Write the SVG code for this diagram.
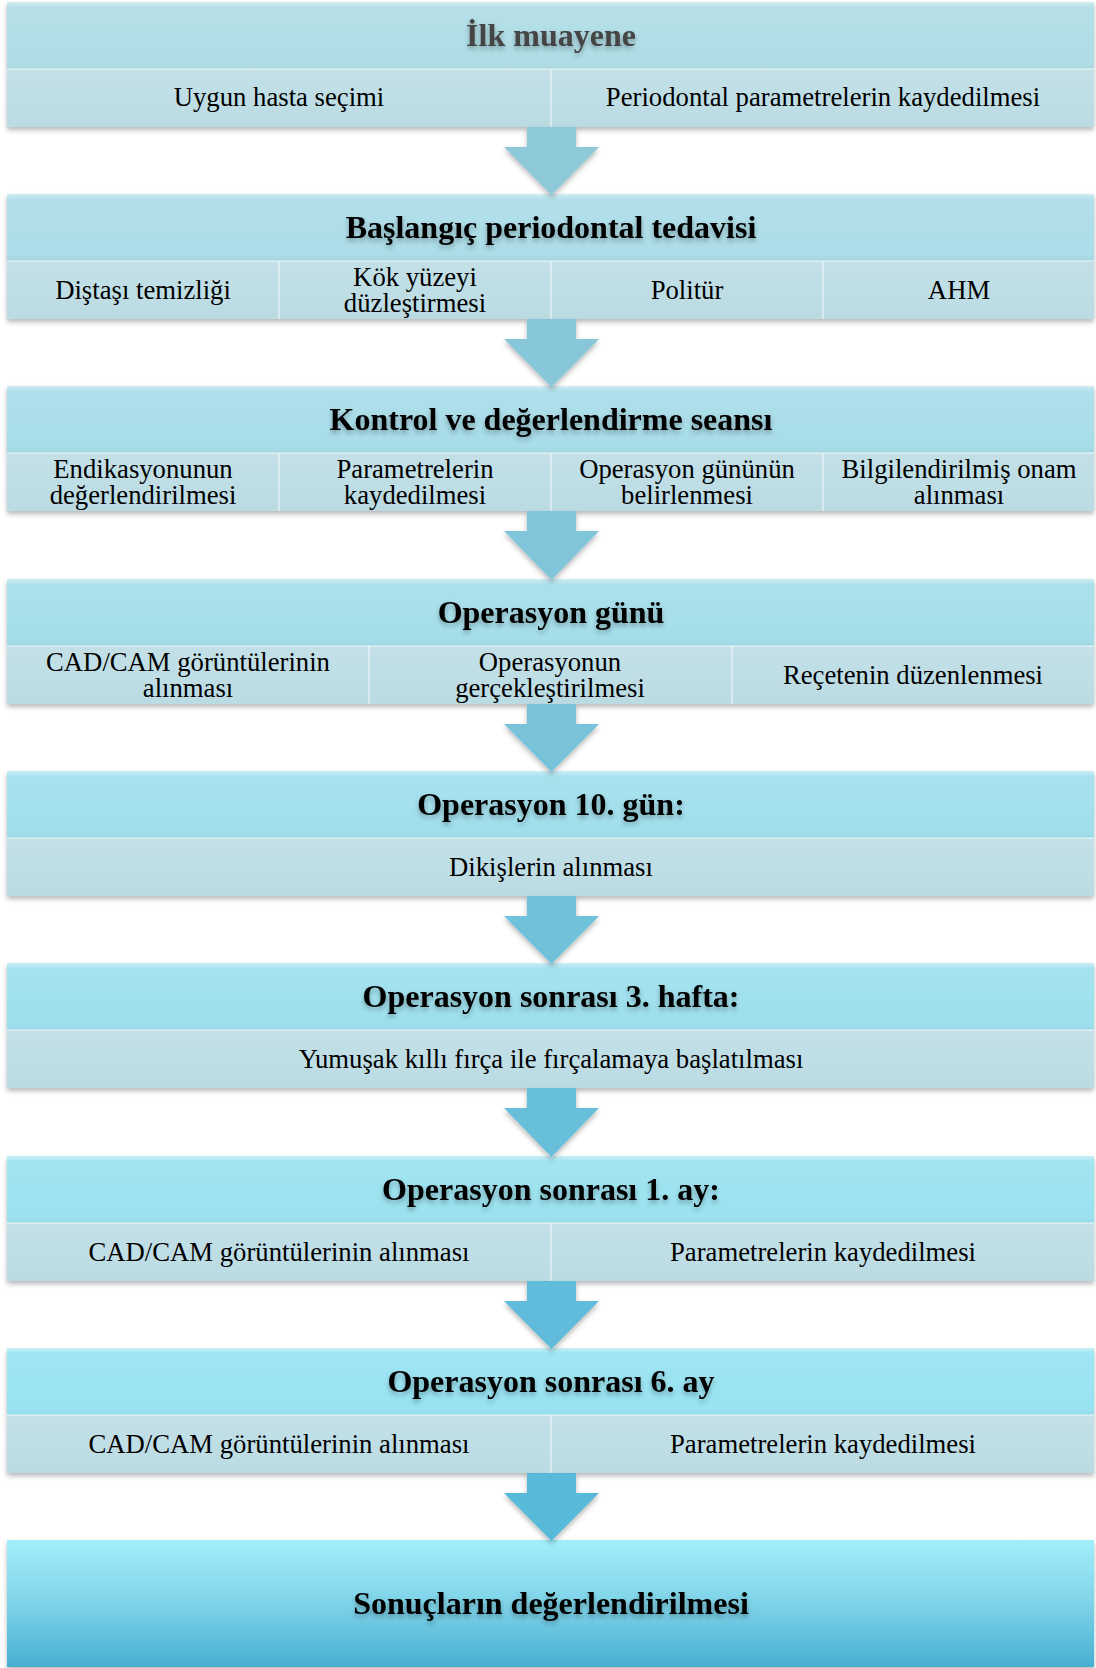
<svg xmlns="http://www.w3.org/2000/svg" width="1096" height="1668" viewBox="0 0 1096 1668">
<style>
.hd{font-family:"Liberation Serif","Times New Roman",serif;font-weight:bold;font-size:32px;fill:#000;text-anchor:middle}
.sb{font-family:"Liberation Serif","Times New Roman",serif;font-size:26.7px;fill:#000;text-anchor:middle}
.dv{stroke:#ffffff;stroke-opacity:0.55;stroke-width:1.5}
.sub{fill:url(#subG)}
.hl{fill:url(#hlG)}
</style>
<defs>
<filter id="sh" x="-5%" y="-20%" width="110%" height="150%">
<feDropShadow dx="0" dy="3" stdDeviation="2.5" flood-color="#000" flood-opacity="0.28"/>
</filter>
<filter id="ts" x="-10%" y="-30%" width="120%" height="180%">
<feDropShadow dx="0" dy="3" stdDeviation="2.5" flood-color="#000" flood-opacity="0.3"/>
</filter>
<linearGradient id="hlG" x1="0" y1="0" x2="0" y2="1">
<stop offset="0" stop-color="#ffffff" stop-opacity="0.45"/>
<stop offset="0.08" stop-color="#ffffff" stop-opacity="0.08"/>
<stop offset="0.85" stop-color="#ffffff" stop-opacity="0"/>
<stop offset="1" stop-color="#000000" stop-opacity="0.04"/>
</linearGradient>
<linearGradient id="subG" x1="0" y1="0" x2="0" y2="1">
<stop offset="0" stop-color="#c3e0e7"/>
<stop offset="1" stop-color="#bbdbe3"/>
</linearGradient>
<linearGradient id="finG" x1="0" y1="0" x2="0" y2="1">
<stop offset="0" stop-color="#a2effb"/>
<stop offset="0.5" stop-color="#7fd3e8"/>
<stop offset="1" stop-color="#47afd2"/>
</linearGradient>
</defs>

<g id="node1">
<rect x="7" y="2" width="1087" height="125" fill="#afdde6" filter="url(#sh)"/>
<rect x="7" y="2" width="1087" height="67" class="hl"/>
<rect x="7" y="69" width="1087" height="58" class="sub"/>
<line x1="7" y1="69" x2="1094" y2="69" class="dv"/>
<line x1="551" y1="69" x2="551" y2="127" class="dv"/>
<text x="551" y="46" class="hd" style="fill:#444" filter="url(#ts)">İlk muayene</text>
<text x="279" y="106" class="sb">Uygun hasta seçimi</text>
<text x="823" y="106" class="sb">Periodontal parametrelerin kaydedilmesi</text>
</g>

<g id="node2">
<rect x="7" y="194" width="1087" height="125" fill="#acdde8" filter="url(#sh)"/>
<rect x="7" y="194" width="1087" height="67" class="hl"/>
<rect x="7" y="261" width="1087" height="58" class="sub"/>
<line x1="7" y1="261" x2="1094" y2="261" class="dv"/>
<line x1="279" y1="261" x2="279" y2="319" class="dv"/>
<line x1="551" y1="261" x2="551" y2="319" class="dv"/>
<line x1="823" y1="261" x2="823" y2="319" class="dv"/>
<text x="551" y="238" class="hd" filter="url(#ts)">Başlangıç periodontal tedavisi</text>
<text x="143" y="299" class="sb">Diştaşı temizliği</text>
<text x="415" y="286" class="sb">Kök yüzeyi</text>
<text x="415" y="312" class="sb">düzleştirmesi</text>
<text x="687" y="299" class="sb">Politür</text>
<text x="959" y="299" class="sb">AHM</text>
</g>

<g id="node3">
<rect x="7" y="386" width="1087" height="125" fill="#a8dde9" filter="url(#sh)"/>
<rect x="7" y="386" width="1087" height="67" class="hl"/>
<rect x="7" y="453" width="1087" height="58" class="sub"/>
<line x1="7" y1="453" x2="1094" y2="453" class="dv"/>
<line x1="279" y1="453" x2="279" y2="511" class="dv"/>
<line x1="551" y1="453" x2="551" y2="511" class="dv"/>
<line x1="823" y1="453" x2="823" y2="511" class="dv"/>
<text x="551" y="430" class="hd" filter="url(#ts)">Kontrol ve değerlendirme seansı</text>
<text x="143" y="478" class="sb">Endikasyonunun</text>
<text x="143" y="504" class="sb">değerlendirilmesi</text>
<text x="415" y="478" class="sb">Parametrelerin</text>
<text x="415" y="504" class="sb">kaydedilmesi</text>
<text x="687" y="478" class="sb">Operasyon gününün</text>
<text x="687" y="504" class="sb">belirlenmesi</text>
<text x="959" y="478" class="sb">Bilgilendirilmiş onam</text>
<text x="959" y="504" class="sb">alınması</text>
</g>

<g id="node4">
<rect x="7" y="579" width="1087" height="125" fill="#a5deea" filter="url(#sh)"/>
<rect x="7" y="579" width="1087" height="67" class="hl"/>
<rect x="7" y="646" width="1087" height="58" class="sub"/>
<line x1="7" y1="646" x2="1094" y2="646" class="dv"/>
<line x1="369" y1="646" x2="369" y2="704" class="dv"/>
<line x1="732" y1="646" x2="732" y2="704" class="dv"/>
<text x="551" y="623" class="hd" filter="url(#ts)">Operasyon günü</text>
<text x="188" y="671" class="sb">CAD/CAM görüntülerinin</text>
<text x="188" y="697" class="sb">alınması</text>
<text x="550" y="671" class="sb">Operasyonun</text>
<text x="550" y="697" class="sb">gerçekleştirilmesi</text>
<text x="913" y="684" class="sb">Reçetenin düzenlenmesi</text>
</g>

<g id="node5">
<rect x="7" y="771" width="1087" height="125" fill="#a1dfec" filter="url(#sh)"/>
<rect x="7" y="771" width="1087" height="67" class="hl"/>
<rect x="7" y="838" width="1087" height="58" class="sub"/>
<line x1="7" y1="838" x2="1094" y2="838" class="dv"/>
<text x="551" y="815" class="hd" filter="url(#ts)">Operasyon 10. gün:</text>
<text x="551" y="876" class="sb">Dikişlerin alınması</text>
</g>

<g id="node6">
<rect x="7" y="963" width="1087" height="125" fill="#9ee0ee" filter="url(#sh)"/>
<rect x="7" y="963" width="1087" height="67" class="hl"/>
<rect x="7" y="1030" width="1087" height="58" class="sub"/>
<line x1="7" y1="1030" x2="1094" y2="1030" class="dv"/>
<text x="551" y="1007" class="hd" filter="url(#ts)">Operasyon sonrası 3. hafta:</text>
<text x="551" y="1068" class="sb">Yumuşak kıllı fırça ile fırçalamaya başlatılması</text>
</g>

<g id="node7">
<rect x="7" y="1156" width="1087" height="125" fill="#9be2f0" filter="url(#sh)"/>
<rect x="7" y="1156" width="1087" height="67" class="hl"/>
<rect x="7" y="1223" width="1087" height="58" class="sub"/>
<line x1="7" y1="1223" x2="1094" y2="1223" class="dv"/>
<line x1="551" y1="1223" x2="551" y2="1281" class="dv"/>
<text x="551" y="1200" class="hd" filter="url(#ts)">Operasyon sonrası 1. ay:</text>
<text x="279" y="1261" class="sb">CAD/CAM görüntülerinin alınması</text>
<text x="823" y="1261" class="sb">Parametrelerin kaydedilmesi</text>
</g>

<g id="node8">
<rect x="7" y="1348" width="1087" height="125" fill="#98e3f2" filter="url(#sh)"/>
<rect x="7" y="1348" width="1087" height="67" class="hl"/>
<rect x="7" y="1415" width="1087" height="58" class="sub"/>
<line x1="7" y1="1415" x2="1094" y2="1415" class="dv"/>
<line x1="551" y1="1415" x2="551" y2="1473" class="dv"/>
<text x="551" y="1392" class="hd" filter="url(#ts)">Operasyon sonrası 6. ay</text>
<text x="279" y="1453" class="sb">CAD/CAM görüntülerinin alınması</text>
<text x="823" y="1453" class="sb">Parametrelerin kaydedilmesi</text>
</g>

<g id="node9">
<rect x="7" y="1540" width="1087" height="127" fill="url(#finG)" filter="url(#sh)"/>
<text x="551" y="1614" class="hd" filter="url(#ts)">Sonuçların değerlendirilmesi</text>
</g>

<g id="connectors" filter="url(#sh)">
<polygon points="527,127 576,127 576,147 599,147 551.5,195 504,147 527,147" fill="#8dc9d9"/>
<polygon points="527,319 576,319 576,339 599,339 551.5,387 504,339 527,339" fill="#87c7d9"/>
<polygon points="527,511 576,511 576,531 599,531 551.5,580 504,531 527,531" fill="#80c5da"/>
<polygon points="527,704 576,704 576,724 599,724 551.5,772 504,724 527,724" fill="#78c3da"/>
<polygon points="527,896 576,896 576,916 599,916 551.5,964 504,916 527,916" fill="#70c1da"/>
<polygon points="527,1088 576,1088 576,1108 599,1108 551.5,1157 504,1108 527,1108" fill="#68bfda"/>
<polygon points="527,1281 576,1281 576,1301 599,1301 551.5,1349 504,1301 527,1301" fill="#60bcda"/>
<polygon points="527,1473 576,1473 576,1493 599,1493 551.5,1541 504,1493 527,1493" fill="#58b9d9"/>
</g>
</svg>
